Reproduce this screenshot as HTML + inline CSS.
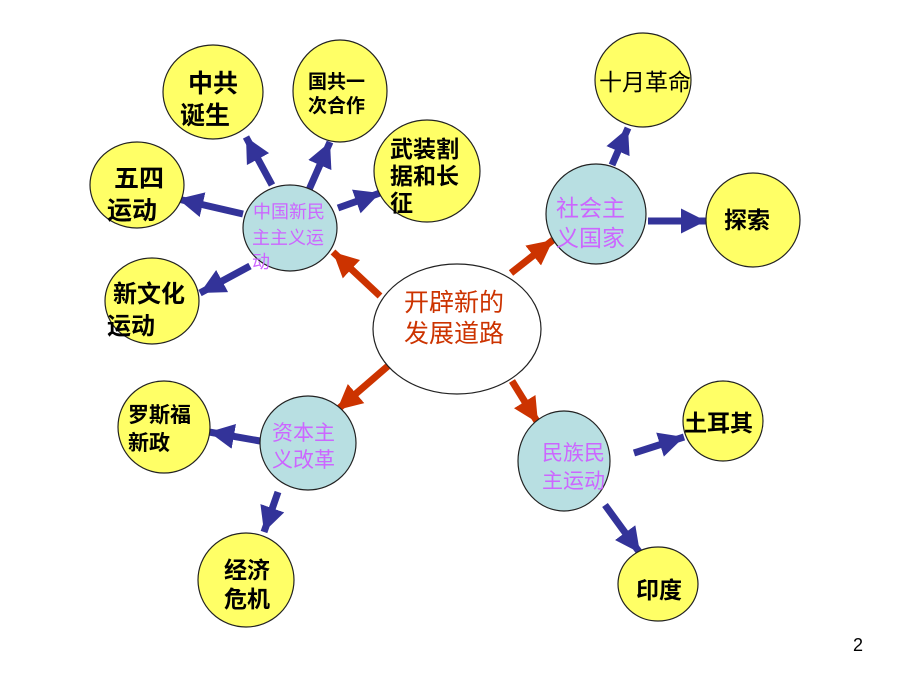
<!DOCTYPE html>
<html><head><meta charset="utf-8"><style>
html,body{margin:0;padding:0;background:#fff;}
svg{display:block;}
text{font-family:"Liberation Sans","Noto Sans CJK SC",sans-serif;}
.y{fill:#FFFF66;stroke:#222;stroke-width:1.2;}
.t{fill:#B8DFE2;stroke:#222;stroke-width:1.2;}
.k{fill:#000;font-size:23px;font-weight:bold;}
.p{fill:#CC66FF;font-size:21px;}
.b{stroke:#333399;stroke-width:7;fill:none;}
.r{stroke:#CC3300;stroke-width:7;fill:none;}
</style></head><body>
<svg width="920" height="690" viewBox="0 0 920 690">
<defs>
<marker id="mb" viewBox="0 0 10 10" refX="10" refY="5" markerWidth="3.6" markerHeight="3.8" orient="auto"><path d="M0,0L10,5L0,10z" fill="#333399"/></marker>
<marker id="mr" viewBox="0 0 10 10" refX="10" refY="5" markerWidth="3.6" markerHeight="3.8" orient="auto"><path d="M0,0L10,5L0,10z" fill="#CC3300"/></marker>
</defs>
<line class="b" x1="272" y1="185" x2="246" y2="137" marker-end="url(#mb)"/>
<line class="b" x1="308" y1="192" x2="330" y2="142" marker-end="url(#mb)"/>
<line class="b" x1="338" y1="208" x2="380" y2="193" marker-end="url(#mb)"/>
<line class="b" x1="243" y1="214" x2="178" y2="199" marker-end="url(#mb)"/>
<line class="b" x1="250" y1="266" x2="200" y2="293" marker-end="url(#mb)"/>
<line class="b" x1="612" y1="165" x2="628" y2="128" marker-end="url(#mb)"/>
<line class="b" x1="648" y1="221" x2="706" y2="221" marker-end="url(#mb)"/>
<line class="b" x1="260" y1="441" x2="209" y2="432" marker-end="url(#mb)"/>
<line class="b" x1="278" y1="492" x2="264" y2="532" marker-end="url(#mb)"/>
<line class="b" x1="634" y1="453" x2="684" y2="437" marker-end="url(#mb)"/>
<line class="b" x1="605" y1="505" x2="640" y2="553" marker-end="url(#mb)"/>
<line class="r" x1="380" y1="296" x2="333" y2="252" marker-end="url(#mr)"/>
<line class="r" x1="511" y1="273" x2="553" y2="240" marker-end="url(#mr)"/>
<line class="r" x1="388" y1="366" x2="337" y2="410" marker-end="url(#mr)"/>
<line class="r" x1="512" y1="381" x2="538" y2="423" marker-end="url(#mr)"/>
<ellipse class="y" cx="213" cy="92" rx="50" ry="47"/>
<ellipse class="y" cx="340" cy="91" rx="47" ry="51"/>
<ellipse class="y" cx="427" cy="171" rx="53" ry="51"/>
<ellipse class="y" cx="137" cy="185" rx="47" ry="43"/>
<ellipse class="y" cx="152" cy="301" rx="47" ry="43"/>
<ellipse class="t" cx="290" cy="228" rx="47" ry="43"/>
<ellipse cx="457" cy="329" rx="84" ry="65" fill="#fff" stroke="#222" stroke-width="1.2"/>
<ellipse class="t" cx="596" cy="214" rx="50" ry="50"/>
<ellipse class="y" cx="643" cy="80" rx="48" ry="47"/>
<ellipse class="y" cx="753" cy="220" rx="47" ry="47"/>
<ellipse class="t" cx="308" cy="443" rx="48" ry="47"/>
<ellipse class="y" cx="164" cy="427" rx="46" ry="46"/>
<ellipse class="y" cx="246" cy="580" rx="48" ry="47"/>
<ellipse class="t" cx="564" cy="461" rx="46" ry="50"/>
<ellipse class="y" cx="723" cy="421" rx="40" ry="40"/>
<ellipse class="y" cx="658" cy="584" rx="40" ry="37"/>
<text class="k" x="188" y="92" style="font-size:25px">中共</text>
<text class="k" x="180" y="124" style="font-size:25px">诞生</text>
<text class="k" x="308" y="88" style="font-size:19px">国共一</text>
<text class="k" x="308" y="112" style="font-size:19px">次合作</text>
<text class="k" x="390" y="157">武装割</text>
<text class="k" x="390" y="184">据和长</text>
<text class="k" x="390" y="211">征</text>
<text class="k" x="114" y="187" style="font-size:25px">五四</text>
<text class="k" x="107" y="219" style="font-size:25px">运动</text>
<text class="k" x="113" y="302" style="font-size:24px">新文化</text>
<text class="k" x="107" y="334" style="font-size:24px">运动</text>
<text class="p" x="253" y="218" style="font-size:18px">中国新民</text>
<text class="p" x="252" y="244" style="font-size:18px">主主义运</text>
<text class="p" x="252" y="268" style="font-size:18px">动</text>
<text x="404" y="311" fill="#CC3300" style="font-size:25px">开辟新的</text>
<text x="404" y="342" fill="#CC3300" style="font-size:25px">发展道路</text>
<text class="p" x="556" y="216" style="font-size:23px">社会主</text>
<text class="p" x="556" y="246" style="font-size:23px">义国家</text>
<text class="k" x="599" y="90" style="font-weight:normal">十月革命</text>
<text class="k" x="724" y="228">探索</text>
<text class="p" x="272" y="440">资本主</text>
<text class="p" x="272" y="467">义改革</text>
<text class="k" x="128" y="422" style="font-size:21px">罗斯福</text>
<text class="k" x="128" y="450" style="font-size:21px">新政</text>
<text class="k" x="224" y="578">经济</text>
<text class="k" x="224" y="607">危机</text>
<text class="p" x="542" y="460">民族民</text>
<text class="p" x="542" y="488">主运动</text>
<text class="k" x="684" y="431">土耳其</text>
<text class="k" x="636" y="598">印度</text>
<text x="853" y="651" fill="#000" style="font-size:18px">2</text>
</svg>
</body></html>
